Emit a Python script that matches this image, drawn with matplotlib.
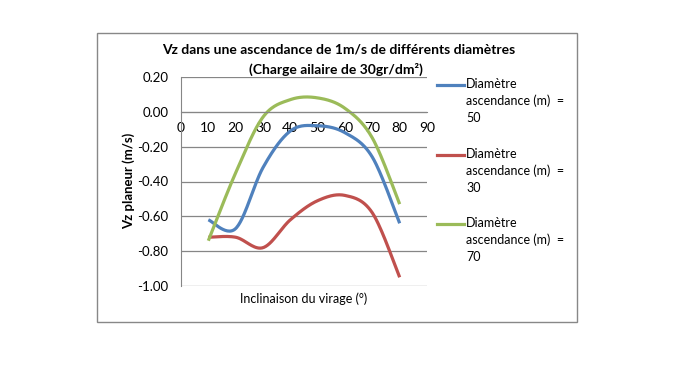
import numpy as np
import matplotlib
matplotlib.use('Agg')
import matplotlib.pyplot as plt
from matplotlib.patches import Rectangle
from matplotlib.lines import Line2D

plt.rcParams['font.family'] = ['Lato', 'DejaVu Sans']

inclinaison = [10, 20, 30, 40, 50, 60, 70, 80]
vz_50 = [-0.62, -0.67, -0.32, -0.11, -0.08, -0.12, -0.26, -0.64]
vz_30 = [-0.72, -0.72, -0.78, -0.62, -0.51, -0.48, -0.58, -0.95]
vz_70 = [-0.74, -0.35, -0.03, 0.07, 0.08, 0.02, -0.15, -0.53]
labels = ['Diamètre\nascendance (m)  =\n50',
          'Diamètre\nascendance (m)  =\n30',
          'Diamètre\nascendance (m)  =\n70']
colors = ['#4F81BD', '#C0504D', '#9BBB59']
yticks = [0.20, 0.00, -0.20, -0.40, -0.60, -0.80, -1.00]
xticks = [0, 10, 20, 30, 40, 50, 60, 70, 80, 90]


def smooth(x, y, n=30):
    # courbe lissée façon Excel (Bezier de type Catmull-Rom)
    x = np.asarray(x, float)
    y = np.asarray(y, float)
    px = np.concatenate([[x[0]], x, [x[-1]]])
    py = np.concatenate([[y[0]], y, [y[-1]]])
    xs, ys = [], []
    t = np.linspace(0, 1, n)
    for i in range(1, len(px) - 2):
        p0 = np.array([px[i], py[i]])
        p3 = np.array([px[i + 1], py[i + 1]])
        p1 = p0 + (np.array([px[i + 1], py[i + 1]]) - np.array([px[i - 1], py[i - 1]])) / 6
        p2 = p3 - (np.array([px[i + 2], py[i + 2]]) - np.array([px[i], py[i]])) / 6
        b = ((1 - t) ** 3)[:, None] * p0 + (3 * (1 - t) ** 2 * t)[:, None] * p1 \
            + (3 * (1 - t) * t ** 2)[:, None] * p2 + (t ** 3)[:, None] * p3
        xs.extend(b[:, 0])
        ys.extend(b[:, 1])
    return xs, ys


W, H = 683, 384
fig = plt.figure(figsize=(W / 100, H / 100), dpi=100)
fig.patches.append(Rectangle((97 / W, 1 - 322 / H), (577 - 97) / W, (322 - 33) / H,
                             transform=fig.transFigure, fill=False,
                             edgecolor='#888888', linewidth=1))

ax = fig.add_axes([181 / W, 1 - 286 / H, (427 - 181) / W, (286 - 77) / H])
ax.set_xlim(0, 90)
ax.set_ylim(-1.0, 0.2)
ax.set_yticks(yticks)
ax.set_yticklabels(['%.2f' % v for v in yticks], fontsize=9.5)
ax.set_xticks(xticks)
ax.set_xticklabels([str(v) for v in xticks], fontsize=9.5)
ax.yaxis.grid(True, color='#868686', linewidth=0.9)
ax.set_axisbelow(True)
for s in ['top', 'right']:
    ax.spines[s].set_visible(False)
ax.spines['bottom'].set_position(('data', 0))
ax.spines['bottom'].set_color('#868686')
ax.spines['left'].set_color('#868686')
ax.tick_params(axis='x', length=0, pad=7)
ax.tick_params(axis='y', length=0, pad=9)

for ys_, c in zip([vz_50, vz_30, vz_70], colors):
    sx, sy = smooth(inclinaison, ys_)
    ax.plot(sx, sy, color=c, linewidth=2.3, solid_capstyle='butt')

fig.text(339 / W, 1 - 50 / H, 'Vz dans une ascendance de 1m/s de différents diamètres',
         ha='center', va='center', fontsize=10, fontweight='bold')
fig.text(336 / W, 1 - 69 / H, '(Charge ailaire de 30gr/dm²)',
         ha='center', va='center', fontsize=10, fontweight='bold')
fig.text(304 / W, 1 - 299 / H, 'Inclinaison du virage (°)',
         ha='center', va='center', fontsize=9)
fig.text(129 / W, 1 - 181 / H, 'Vz planeur (m/s)', rotation=90,
         ha='center', va='center', fontsize=9.5, fontweight='bold')

# légende
for lab, c, y0 in zip(labels, colors, [85, 155, 224]):
    fig.add_artist(Line2D([437 / W, 464 / W], [1 - y0 / H, 1 - y0 / H],
                          transform=fig.transFigure, color=c, linewidth=2.3))
    fig.text(466 / W, 1 - (y0 - 7) / H, lab, ha='left', va='top',
             fontsize=9, linespacing=1.45)

fig.savefig('out.png', dpi=100)
